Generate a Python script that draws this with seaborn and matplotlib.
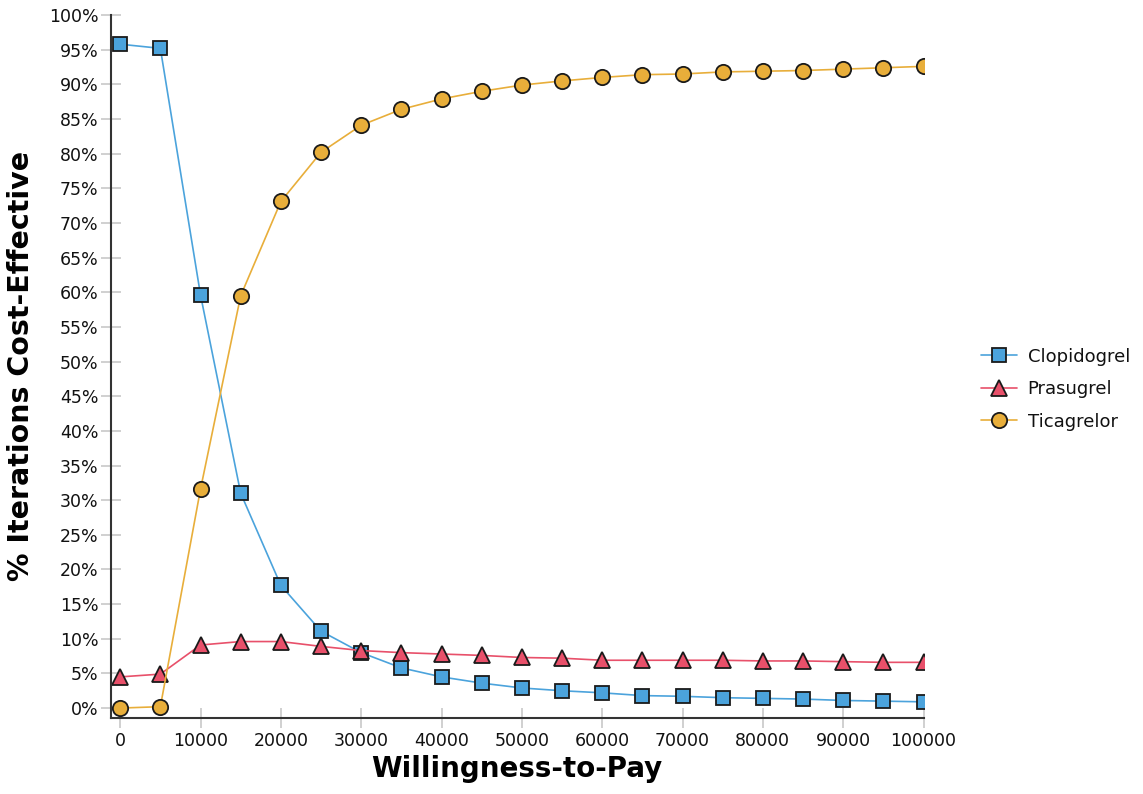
import numpy as np
import pandas as pd
import seaborn as sns
import matplotlib.pyplot as plt
from matplotlib.ticker import FuncFormatter, MultipleLocator

wtp = list(range(0, 100001, 5000))
clopidogrel = [95.8, 95.2, 59.6, 31.0, 17.7, 11.1, 8.0, 5.8, 4.5, 3.6, 2.9,
               2.5, 2.2, 1.8, 1.7, 1.5, 1.4, 1.3, 1.1, 1.0, 0.9]
prasugrel = [4.5, 4.9, 9.1, 9.6, 9.6, 8.9, 8.3, 8.0, 7.8, 7.6, 7.3,
             7.2, 6.9, 6.9, 6.9, 6.9, 6.8, 6.8, 6.7, 6.6, 6.6]
ticagrelor = [0.0, 0.2, 31.6, 59.5, 73.1, 80.2, 84.1, 86.4, 87.9, 89.0, 89.9,
              90.5, 91.0, 91.4, 91.5, 91.8, 91.9, 92.0, 92.2, 92.4, 92.6]

series = {'Clopidogrel': clopidogrel, 'Prasugrel': prasugrel, 'Ticagrelor': ticagrelor}
colors = {'Clopidogrel': '#4ba3dc', 'Prasugrel': '#e8506a', 'Ticagrelor': '#e8ae3a'}
markers = {'Clopidogrel': 's', 'Prasugrel': '^', 'Ticagrelor': 'o'}
msizes = {'Clopidogrel': 10, 'Prasugrel': 11, 'Ticagrelor': 11}

sns.set_style('white')
plt.rcParams['font.family'] = ['DejaVu Sans']

fig = plt.figure(figsize=(11.43, 7.94), dpi=100)
ax = fig.add_axes([0.097, 0.096, 0.711, 0.885])

for name, vals in series.items():
    df = pd.DataFrame({'WTP': wtp, 'pct': vals})
    sns.lineplot(data=df, x='WTP', y='pct', ax=ax, color=colors[name],
                 marker=markers[name], markersize=msizes[name],
                 markeredgecolor='#1a1a1a', markeredgewidth=1.3,
                 linewidth=1.2, label=name, legend=False)

ax.set_xlim(-1160, 100000)
ax.set_ylim(-1.4, 100)
ax.xaxis.set_major_locator(MultipleLocator(10000))
ax.yaxis.set_major_locator(MultipleLocator(5))
ax.yaxis.set_major_formatter(FuncFormatter(lambda v, p: f'{v:.0f}%'))
ax.tick_params(axis='both', direction='inout', length=14, width=1.2,
               color='#c8c8c8', labelsize=12.5, labelcolor='#111111',
               bottom=True, left=True)
ax.tick_params(axis='y', pad=2)
ax.tick_params(axis='x', pad=3)

for s in ['top', 'right']:
    ax.spines[s].set_visible(False)
for s in ['left', 'bottom']:
    ax.spines[s].set_color('#333333')
    ax.spines[s].set_linewidth(1.5)

ax.set_xlabel('Willingness-to-Pay', fontsize=20, fontweight='bold', labelpad=4,
              color='#000000')
ax.set_ylabel('% Iterations Cost-Effective', fontsize=20.5, fontweight='bold',
              labelpad=10, color='#000000')

ax.legend(loc='center left', bbox_to_anchor=(0.858, 0.51), bbox_transform=fig.transFigure,
          frameon=False, fontsize=13, handlelength=2.0, labelspacing=0.8,
          handletextpad=0.6, borderaxespad=0, borderpad=0, labelcolor='#111111')

plt.savefig('out.png', dpi=100)
